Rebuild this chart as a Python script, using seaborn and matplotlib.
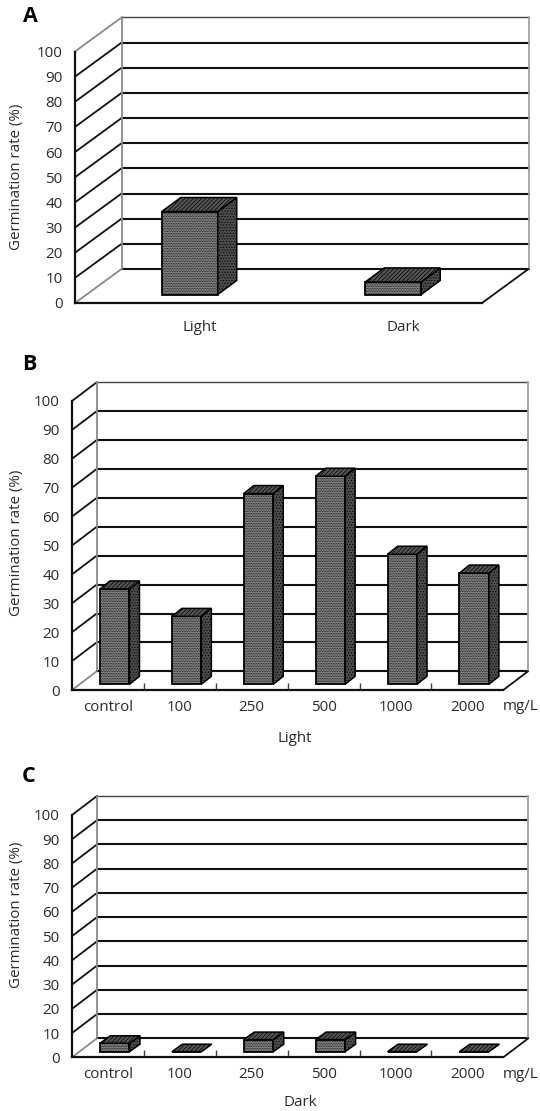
import numpy as np
import pandas as pd
import matplotlib
matplotlib.use("Agg")
import matplotlib.pyplot as plt
from matplotlib.patches import Polygon
from matplotlib.ticker import FixedLocator
from matplotlib.transforms import Affine2D
import seaborn as sns

# values
y_ticks = [0, 10, 20, 30, 40, 50, 60, 70, 80, 90, 100]
cats_a = ["Light", "Dark"]
vals_a = [33, 5]
cats_conc = ["control", "100", "250", "500", "1000", "2000"]
vals_b = [33, 23.5, 66, 72, 45, 38.5]
vals_c = [3.5, 0, 5, 5, 0, 0]

W, H = 540, 1111
sns.set_style("white")
plt.rcParams["font.family"] = ["Open Sans", "DejaVu Sans"]
plt.rcParams["hatch.linewidth"] = 0.5
TXT = "#2a2a2a"
FS = 10.9

fig = plt.figure(figsize=(W / 100, H / 100), dpi=100, facecolor="white")


def px_text(x, y, s, **kw):
    fig.text(x / W, 1 - y / H, s, ha="center", va="center", color=kw.pop("color", TXT), **kw)


def panel(cats, vals, left, right, y0, y100, depth, bar_w, inset, box, ticks_up, lab_pad, lab_dx=0, grey_top=False):
    ax = fig.add_axes([left / W, 1 - y0 / H, (right - left) / W, (y0 - y100) / H])
    df = pd.DataFrame({"cat": cats, "val": vals})
    sns.barplot(data=df, x="cat", y="val", ax=ax, color="#8f8f8f", saturation=1, width=bar_w,
                edgecolor="black", linewidth=1.3, zorder=5)
    ax.set_xlim(-0.5, len(cats) - 0.5)
    ax.set_ylim(0, 100)
    ax.set_xlabel("")
    ax.set_ylabel("")
    # pixel sizes to data units
    ux = len(cats) / (right - left)
    uy = 100 / (y0 - y100)
    dx, dy = depth[0] * ux, depth[1] * uy
    x_end = len(cats) - 0.5
    x_start = -0.5

    # back wall
    for v in y_ticks:
        col = "#8a8a8a" if (v == 0 or (v == 100 and grey_top)) else "#111111"
        ax.plot([x_start, x_start + dx], [v, v + dy], color=col, lw=1.3, clip_on=False, zorder=2)
        c2 = "#444444" if v == 100 else "#111111"
        ax.plot([x_start + dx, x_end + dx], [v + dy, v + dy], color=c2, lw=1.0 if v == 100 else 1.5,
                clip_on=False, zorder=2)
    ax.plot([x_start + dx] * 2, [dy, 100 + dy], color="#8a8a8a", lw=1.3, clip_on=False, zorder=2)
    ax.plot([x_end + dx] * 2, [dy, 100 + dy], color="#a0a0a0", lw=1.3, clip_on=False, zorder=2)
    ax.plot([x_end, x_end + dx], [0, dy], color="#111111", lw=1.3, clip_on=False, zorder=2)

    # bars get moved into the floor, then side and top faces added
    ix, iy = inset[0] * ux, inset[1] * uy
    bx, by = box[0] * ux, box[1] * uy
    for bar in ax.patches:
        bar.set_x(bar.get_x() + ix)
        bar.set_y(iy)
        bar.set_hatch("..........")
        bar.set_clip_on(False)
        x0, w, h = bar.get_x(), bar.get_width(), bar.get_height()
        top = iy + h
        side = [(x0 + w, iy), (x0 + w + bx, iy + by), (x0 + w + bx, top + by), (x0 + w, top)]
        lid = [(x0, top), (x0 + bx, top + by), (x0 + w + bx, top + by), (x0 + w, top)]
        if h > 0:
            ax.add_patch(Polygon(side, closed=True, facecolor="#4c4c4c", edgecolor="black", lw=1.1,
                                 hatch="......", zorder=5, clip_on=False))
        ax.add_patch(Polygon(lid, closed=True, facecolor="#555555", edgecolor="black", lw=1.1,
                             hatch="////////", zorder=5, clip_on=False))

    sns.despine(ax=ax, top=True, right=True)
    for s in ["left", "bottom"]:
        ax.spines[s].set_color("#111111")
        ax.spines[s].set_linewidth(1.6)
        ax.spines[s].set_zorder(6)
    ax.set_yticks(y_ticks)
    ax.tick_params(axis="y", length=0, pad=9, labelsize=FS, labelcolor=TXT)
    ax.set_xticks(range(len(cats)))
    ax.set_xticklabels(cats)
    ax.tick_params(axis="x", which="major", length=0, pad=lab_pad, labelsize=FS, labelcolor=TXT)
    if ticks_up:
        ax.xaxis.set_minor_locator(FixedLocator(np.arange(0.5, len(cats) - 0.5)))
        ax.tick_params(axis="x", which="minor", direction="in", length=5, width=1, color="#444444", bottom=True)
    if lab_dx:
        for t in ax.get_xticklabels():
            t.set_transform(t.get_transform() + Affine2D().translate(lab_dx, 0))
    return ax


panel(cats_a, vals_a, 75, 482, 303, 51.5, (46.5, 34), 0.275, (13, 8.5), (19, 14), False, 12.5, lab_dx=23, grey_top=True)
panel(cats_conc, vals_b, 72, 503.3, 690, 401, (24.7, 18.7), 0.41, (6.8, 5.7), (10, 8), True, 7)
panel(cats_conc, vals_c, 72, 503.3, 1057.3, 815, (25, 19), 0.41, (6.8, 5.6), (10.5, 7.5), True, 7)

px_text(30, 17, "A", fontsize=15.5, fontweight="bold", color="black")
px_text(29, 365, "B", fontsize=15.5, fontweight="bold", color="black")
px_text(29, 777, "C", fontsize=15.5, fontweight="bold", color="black")

for yc in [177, 543, 915]:
    px_text(17, yc, "Germination rate (%)", fontsize=FS, rotation=90)

px_text(520.5, 707, "mg/L", fontsize=FS)
px_text(520.5, 1074, "mg/L", fontsize=FS)
px_text(295, 738, "Light", fontsize=FS)
px_text(300, 1102, "Dark", fontsize=FS)

fig.savefig("out.png", dpi=100, facecolor="white")
